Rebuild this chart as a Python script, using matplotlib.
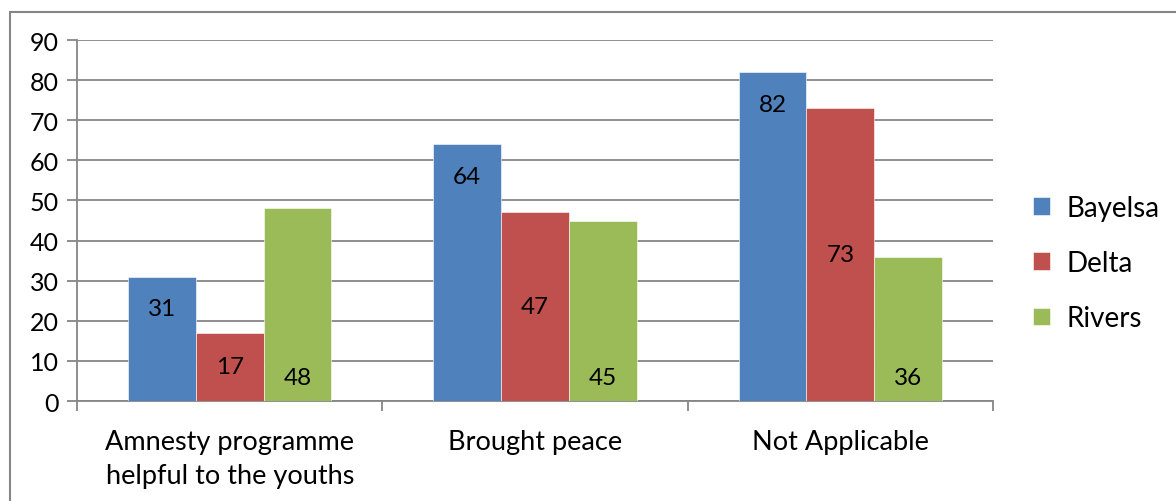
import numpy as np
import matplotlib.pyplot as plt
from matplotlib.patches import Rectangle

plt.rcParams['font.family'] = ['Lato', 'DejaVu Sans']

categorias = ['Amnesty programme\nhelpful to the youths', 'Brought peace', 'Not Applicable']
estados = ['Bayelsa', 'Delta', 'Rivers']
bayelsa = [31, 64, 82]
delta = [17, 47, 73]
rivers = [48, 45, 36]
colores = ['#4F81BD', '#C0504D', '#9BBB59']

fig = plt.figure(figsize=(11.76, 5.02), dpi=100)
ax = fig.add_axes([0.0655, 0.1992, 0.7789, 0.7191])

# marco del grafico (se sale por la derecha y por abajo)
fig.patches.append(Rectangle((10/1176, -0.1), 1.2, 1 - 13/502 + 0.1, transform=fig.transFigure,
                             fill=False, edgecolor='#868686', linewidth=1.5, zorder=0))

x = np.arange(len(categorias))
ancho = 1 / 4.5
series = [bayelsa, delta, rivers]
for i, (valores, nombre) in enumerate(zip(series, estados)):
    pos = x + (i - 1) * ancho
    barras = ax.bar(pos, valores, ancho, color=colores[i], label=nombre,
                    edgecolor='white', linewidth=0.4, zorder=3)
    for p, v in zip(pos, valores):
        if i == 0:
            # etiqueta dentro del extremo
            ax.annotate(str(v), (p, v), xytext=(0, -23), textcoords='offset points',
                        ha='center', va='center', fontsize=17.5, zorder=4)
        elif i == 1:
            ax.text(p, v / 2, str(v), ha='center', va='center', fontsize=17.5, zorder=4)
        else:
            # etiqueta en la base
            ax.annotate(str(v), (p, 0), xytext=(0, 17), textcoords='offset points',
                        ha='center', va='center', fontsize=17.5, zorder=4)

ax.set_xlim(-0.5, 2.5)
ax.set_ylim(0, 90)
ax.set_yticks(range(0, 91, 10))
ax.yaxis.grid(True, color='#868686', linewidth=1.3, zorder=0)
ax.set_axisbelow(True)

ax.set_xticks(x)
ax.set_xticklabels(categorias, fontsize=19.5, linespacing=1.45)
ax.set_xticks([-0.5, 0.5, 1.5, 2.5], minor=True)
ax.tick_params(axis='x', which='major', length=0, pad=20)
ax.tick_params(axis='x', which='minor', length=7, width=1.3, color='#868686')
ax.tick_params(axis='y', length=7, width=1.3, color='#868686', labelsize=18, pad=6)

for lado in ['top', 'right']:
    ax.spines[lado].set_visible(False)
for lado in ['left', 'bottom']:
    ax.spines[lado].set_color('#868686')
    ax.spines[lado].set_linewidth(1.3)

fig.legend(loc='center left', bbox_to_anchor=(1008/1176, 238/502), frameon=False,
           fontsize=20, handlelength=0.6, handleheight=0.6, labelspacing=1.05,
           handletextpad=0.6)

plt.savefig('out.png', dpi=100)
